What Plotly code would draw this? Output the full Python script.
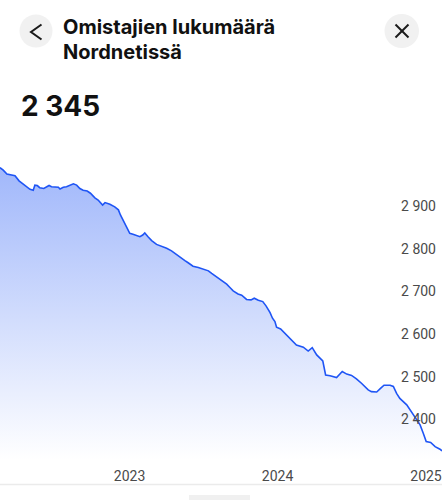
import plotly.graph_objects as go

# ---- data ----
dates = ["2022-02-13","2022-02-21","2022-03-02","2022-03-14","2022-03-22","2022-04-01","2022-04-11","2022-04-20","2022-04-28","2022-05-06",
         "2022-05-10","2022-05-16","2022-05-22","2022-06-01","2022-06-08","2022-06-14","2022-06-20","2022-06-28","2022-07-07","2022-07-11",
         "2022-07-19","2022-07-27","2022-08-04","2022-08-13","2022-08-21","2022-08-29","2022-09-06","2022-09-16","2022-09-24","2022-10-05",
         "2022-10-13","2022-10-20","2022-10-24","2022-10-30","2022-11-11","2022-11-23","2022-12-02","2022-12-07","2022-12-14","2022-12-20",
         "2022-12-26","2022-12-30",
         "2023-01-07","2023-01-16","2023-01-24","2023-01-31","2023-02-05","2023-02-13","2023-02-22","2023-03-06","2023-03-19","2023-03-31",
         "2023-04-12","2023-04-20","2023-05-03","2023-05-15","2023-05-23","2023-06-04","2023-06-17","2023-06-29","2023-07-12","2023-07-20",
         "2023-08-01","2023-08-13","2023-08-26","2023-09-03","2023-09-11","2023-09-23","2023-10-02","2023-10-14","2023-10-25","2023-11-02",
         "2023-11-12","2023-11-23","2023-12-01","2023-12-11","2023-12-17","2023-12-23","2023-12-27",
         "2024-01-06","2024-01-21","2024-02-02","2024-02-14","2024-03-02","2024-03-14","2024-03-24","2024-04-04","2024-04-19","2024-04-26",
         "2024-05-07","2024-05-23","2024-06-06","2024-06-17","2024-06-29","2024-07-11","2024-07-24","2024-08-09","2024-08-17","2024-08-30",
         "2024-09-09","2024-09-17","2024-10-02","2024-10-10","2024-10-18","2024-10-26","2024-11-12","2024-11-28","2024-12-15","2024-12-23",
         "2024-12-30",
         "2025-01-10","2025-01-21","2025-02-02","2025-02-07"]

owners = [2990,2984,2975,2973,2971,2959,2951,2944,2939,2937,
          2949,2948,2943,2941,2945,2948,2945,2945,2944,2940,
          2944,2945,2948,2952,2949,2941,2937,2935,2930,2919,
          2914,2906,2902,2908,2904,2898,2891,2879,2867,2855,
          2844,2836,
          2834,2830,2828,2832,2837,2828,2819,2810,2806,2801,
          2795,2789,2779,2772,2767,2759,2756,2752,2748,2742,
          2734,2725,2717,2709,2701,2694,2691,2681,2680,2684,
          2679,2676,2666,2650,2637,2629,2616,
          2612,2598,2586,2574,2569,2560,2568,2551,2537,2504,
          2502,2498,2512,2506,2503,2495,2484,2469,2465,2464,
          2473,2480,2480,2477,2461,2449,2434,2410,2387,2367,
          2348,
          2346,2336,2330,2326]

y_ticks = [2400, 2500, 2600, 2700, 2800, 2900]
x_tick_dates = ["2023-01-01", "2024-01-01", "2025-01-01"]
x_tick_labels = ["2023", "2024", "2025"]
title_line1 = "Omistajien lukumäärä"
title_line2 = "Nordnetissä"
headline = "2 345"

W, H = 442, 500
def px(x):
    return x / W
def py(y):
    return 1 - y / H

FONT = "Inter"
TICKFONT = "Roboto"
LINE = "#1f55f5"

fig = go.Figure()
fig.add_trace(go.Scatter(
    x=dates, y=owners, mode="lines",
    line=dict(color=LINE, width=1.6),
    fill="tozeroy",
    fillgradient=dict(type="vertical",
                      colorscale=[[0, "rgba(31,85,245,0)"], [1, "rgba(31,85,245,0.42)"]],
                      start=2305, stop=2990),
    hoverinfo="skip", showlegend=False,
))

shapes = [
    # back button
    dict(type="circle", xref="paper", yref="paper", x0=px(19.5), x1=px(52.5), y0=py(47.5), y1=py(14.5),
         fillcolor="#f1f1f1", line=dict(width=0), layer="above"),
    dict(type="path", xref="paper", yref="paper",
         path=f"M {px(41.5)} {py(24.5)} L {px(31)} {py(32)} L {px(41.5)} {py(39.5)}",
         line=dict(color="#1a1a1a", width=2), layer="above"),
    # close button
    dict(type="circle", xref="paper", yref="paper", x0=px(384.5), x1=px(419), y0=py(48), y1=py(14),
         fillcolor="#f1f1f1", line=dict(width=0), layer="above"),
    dict(type="line", xref="paper", yref="paper", x0=px(395.5), x1=px(408.5), y0=py(24.5), y1=py(37.5),
         line=dict(color="#1a1a1a", width=2), layer="above"),
    dict(type="line", xref="paper", yref="paper", x0=px(395.5), x1=px(408.5), y0=py(37.5), y1=py(24.5),
         line=dict(color="#1a1a1a", width=2), layer="above"),
    # bottom separator
    dict(type="line", xref="paper", yref="paper", x0=0, x1=1, y0=py(484.5), y1=py(484.5),
         line=dict(color="#ebebeb", width=1.5), layer="above"),
    # bottom tab
    dict(type="rect", xref="paper", yref="paper", x0=px(189), x1=px(250), y0=py(501), y1=py(495),
         fillcolor="#f0f0f0", line=dict(width=0), layer="above"),
]

annotations = [
    dict(text=f"<b>{title_line1}</b>", xref="paper", yref="paper", x=px(61), y=py(27), xanchor="left", yanchor="middle",
         showarrow=False, font=dict(family=FONT, size=20, color="#111111")),
    dict(text=f"<b>{title_line2}</b>", xref="paper", yref="paper", x=px(61), y=py(52.5), xanchor="left", yanchor="middle",
         showarrow=False, font=dict(family=FONT, size=20, color="#111111")),
    dict(text=f"<b>{headline}</b>", xref="paper", yref="paper", x=px(19), y=py(106), xanchor="left", yanchor="middle",
         showarrow=False, font=dict(family=FONT, size=28, color="#111111")),
]

fig.update_layout(
    width=W, height=H,
    margin=dict(l=0, r=0, t=0, b=0, pad=0),
    paper_bgcolor="white", plot_bgcolor="white",
    separators=", ",
    font=dict(family=TICKFONT, color="#4a4a4a", size=14),
    shapes=shapes, annotations=annotations,
    xaxis=dict(type="date", range=["2022-02-13", "2025-02-07"], domain=[0, 1],
               tickvals=x_tick_dates, ticktext=x_tick_labels,
               showgrid=False, zeroline=False, showline=False, ticks="",
               tickfont=dict(family=TICKFONT, size=14, color="#4a4a4a"), automargin=False,
               ticklabeloverflow="allow", ticklabelstandoff=6, ticklabelshift=-1,
               fixedrange=True),
    yaxis=dict(range=[2304.7, 3054.7], domain=[py(460), py(140)],
               anchor="free", position=1, side="left",
               tickvals=y_ticks, tickformat=",d",
               showgrid=False, zeroline=False, showline=False, ticks="",
               tickfont=dict(family=TICKFONT, size=14, color="#4a4a4a"), automargin=False,
               ticklabeloverflow="allow", ticklabelstandoff=6, fixedrange=True),
)

fig.write_html("out.html", config={"displayModeBar": False},
               post_script="document.body.style.margin='0';document.body.style.overflow='hidden';")
